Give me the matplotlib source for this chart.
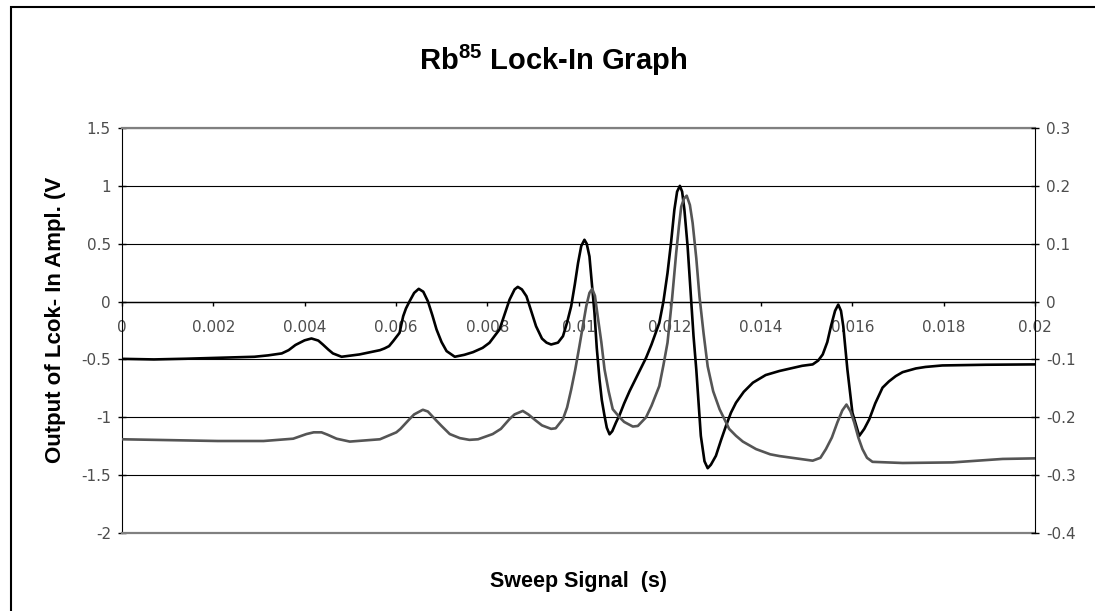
import matplotlib
matplotlib.use("Agg")
import matplotlib.pyplot as plt
from matplotlib.patches import Rectangle

# Lock-in amplifier output (left axis, V) against sweep time (s)
sweep_lockin = [
    0.0000, 0.0007, 0.0014, 0.0021, 0.0029, 0.0032, 0.0035, 0.00365, 0.0038, 0.0040,
    0.00415, 0.0043, 0.0044, 0.00452, 0.00462, 0.00481, 0.0052, 0.00565, 0.00575, 0.00585,
    0.00594, 0.00608, 0.00616, 0.00622, 0.0063, 0.0064, 0.0065, 0.0066, 0.0067, 0.0068,
    0.00689, 0.0070, 0.00711, 0.00729, 0.0075, 0.00769, 0.0079, 0.00805, 0.00827, 0.0084,
    0.00849, 0.0086, 0.00867, 0.00876, 0.00886, 0.00897, 0.00907, 0.0092, 0.0093, 0.0094,
    0.00955, 0.00966, 0.00975, 0.00984, 0.00992, 0.00999, 0.01006, 0.01013, 0.01018, 0.01024,
    0.01035, 0.0104, 0.01046, 0.01051, 0.01057, 0.01062, 0.01068, 0.01074, 0.01082, 0.0109,
    0.0110, 0.01112, 0.0113, 0.01148, 0.0116, 0.01177, 0.01186, 0.01195, 0.01203, 0.0121,
    0.01216, 0.01222, 0.01227, 0.01232, 0.01239, 0.01243, 0.01247, 0.01252, 0.01258, 0.01263,
    0.01268, 0.01276, 0.01283, 0.0129, 0.01301, 0.01312, 0.01323, 0.01334, 0.01345, 0.01362,
    0.01382, 0.0141, 0.0144, 0.01462, 0.0149, 0.01513, 0.01525, 0.01535, 0.01545, 0.01553,
    0.01562, 0.01569, 0.01575, 0.0158, 0.01589, 0.0160, 0.01615, 0.01626, 0.01637, 0.0165,
    0.01666, 0.0168, 0.01695, 0.0171, 0.01739, 0.0176, 0.01797, 0.01892, 0.0200,
]
lockin_output = [
    -0.495, -0.500, -0.494, -0.486, -0.477, -0.465, -0.448, -0.420, -0.375, -0.335,
    -0.319, -0.337, -0.371, -0.415, -0.448, -0.477, -0.457, -0.420, -0.405, -0.385,
    -0.342, -0.270, -0.126, -0.060, 0.003, 0.075, 0.110, 0.085, 0.003, -0.120,
    -0.241, -0.350, -0.428, -0.477, -0.460, -0.437, -0.400, -0.356, -0.241, -0.090,
    0.017, 0.105, 0.127, 0.105, 0.046, -0.090, -0.213, -0.320, -0.355, -0.371,
    -0.355, -0.299, -0.180, -0.040, 0.150, 0.333, 0.480, 0.534, 0.500, 0.390,
    -0.098, -0.400, -0.672, -0.850, -0.988, -1.090, -1.147, -1.120, -1.046, -0.980,
    -0.880, -0.773, -0.630, -0.486, -0.370, -0.184, 0.000, 0.247, 0.520, 0.793,
    0.950, 1.000, 0.950, 0.793, 0.477, 0.240, -0.011, -0.300, -0.586, -0.870,
    -1.161, -1.380, -1.440, -1.410, -1.333, -1.200, -1.075, -0.960, -0.874, -0.780,
    -0.701, -0.635, -0.600, -0.580, -0.555, -0.543, -0.510, -0.457, -0.350, -0.213,
    -0.080, -0.026, -0.080, -0.213, -0.586, -0.960, -1.161, -1.100, -1.017, -0.880,
    -0.744, -0.690, -0.644, -0.610, -0.578, -0.565, -0.552, -0.546, -0.543,
]

# Absorption signal (right axis, V) against sweep time (s)
sweep_absorption = [
    0.0000, 0.0007, 0.0021, 0.0031, 0.00375, 0.00404, 0.0042, 0.00437, 0.0045, 0.0047,
    0.00499, 0.00565, 0.00601, 0.0061, 0.0063, 0.0064, 0.00659, 0.0067, 0.00689, 0.0070,
    0.00718, 0.0074, 0.00761, 0.0078, 0.00812, 0.0083, 0.00849, 0.0086, 0.00878, 0.0089,
    0.00907, 0.0092, 0.0094, 0.0095, 0.00966, 0.00975, 0.00984, 0.00993, 0.01002, 0.0101,
    0.01017, 0.01024, 0.0103, 0.01036, 0.01042, 0.0105, 0.01057, 0.01066, 0.01075, 0.0109,
    0.0110, 0.01119, 0.0113, 0.01148, 0.0116, 0.01177, 0.01186, 0.01195, 0.01205, 0.01214,
    0.0122, 0.01225, 0.01231, 0.01237, 0.01244, 0.0125, 0.01258, 0.01265, 0.01274, 0.01283,
    0.01295, 0.01309, 0.0133, 0.01345, 0.0136, 0.01389, 0.0142, 0.0144, 0.01513, 0.0153,
    0.01542, 0.01555, 0.01567, 0.01578, 0.01587, 0.01596, 0.01604, 0.01613, 0.01622, 0.01632,
    0.01644, 0.0171, 0.01819, 0.01929, 0.0200,
]
absorption_signal = [
    -0.238, -0.239, -0.241, -0.241, -0.237, -0.229, -0.226, -0.226, -0.230, -0.237,
    -0.242, -0.238, -0.226, -0.220, -0.203, -0.195, -0.187, -0.190, -0.206, -0.215,
    -0.229, -0.236, -0.239, -0.238, -0.229, -0.220, -0.203, -0.195, -0.189, -0.195,
    -0.206, -0.214, -0.220, -0.219, -0.203, -0.183, -0.152, -0.117, -0.077, -0.040,
    -0.008, 0.015, 0.022, 0.010, -0.025, -0.070, -0.117, -0.155, -0.186, -0.200,
    -0.208, -0.216, -0.215, -0.200, -0.180, -0.146, -0.110, -0.071, 0.005, 0.084,
    0.130, 0.164, 0.178, 0.183, 0.167, 0.136, 0.075, 0.009, -0.055, -0.112,
    -0.155, -0.186, -0.220, -0.232, -0.242, -0.255, -0.264, -0.267, -0.275, -0.270,
    -0.255, -0.235, -0.209, -0.188, -0.178, -0.190, -0.209, -0.235, -0.255, -0.270,
    -0.277, -0.279, -0.278, -0.272, -0.271,
]

left_ticks = [-2, -1.5, -1, -0.5, 0, 0.5, 1, 1.5]
left_labels = ["-2", "-1.5", "-1", "-0.5", "0", "0.5", "1", "1.5"]
right_ticks = [-0.4, -0.3, -0.2, -0.1, 0, 0.1, 0.2, 0.3]
right_labels = ["-0.4", "-0.3", "-0.2", "-0.1", "0", "0.1", "0.2", "0.3"]
x_ticks = [0, 0.002, 0.004, 0.006, 0.008, 0.01, 0.012, 0.014, 0.016, 0.018, 0.02]
x_labels = ["0", "0.002", "0.004", "0.006", "0.008", "0.01", "0.012", "0.014",
            "0.016", "0.018", "0.02"]

plt.rcParams["mathtext.fontset"] = "custom"
plt.rcParams["mathtext.bf"] = "Liberation Sans:bold"
plt.rcParams["mathtext.rm"] = "Liberation Sans"

W, H = 1095, 611
fig = plt.figure(figsize=(W / 100, H / 100), dpi=100)
fig.patch.set_facecolor("white")

ax = fig.add_axes([122 / W, 1 - 533 / H, (1035 - 122) / W, (533 - 128) / H])
ax.set_xlim(0, 0.02)
ax.set_ylim(-2, 1.5)

tick_color = "#4d4d4d"
ax.set_yticks(left_ticks)
ax.set_yticklabels(left_labels)
ax.set_xticks(x_ticks)
ax.set_xticklabels(x_labels)
ax.yaxis.grid(True, color="black", lw=0.8)
ax.set_axisbelow(True)
ax.tick_params(axis="y", direction="inout", length=6, width=1, labelsize=11,
               labelcolor=tick_color, pad=5)
ax.tick_params(axis="x", direction="out", length=3, width=1, labelsize=11,
               labelcolor=tick_color, pad=10)

ax.spines["bottom"].set_position(("data", 0))
ax.spines["bottom"].set_linewidth(1.0)
ax.spines["left"].set_color("black")
ax.spines["top"].set_color("#808080")
ax.spines["top"].set_linewidth(1.6)
ax.spines["right"].set_visible(False)
ax.axhline(-2, color="#808080", lw=1.6, zorder=2.6, clip_on=False)

ax.plot(sweep_lockin, lockin_output, color="black", lw=1.9, zorder=3,
        solid_joinstyle="round")

ax2 = ax.twinx()
ax2.set_ylim(-0.4, 0.3)
ax2.set_yticks(right_ticks)
ax2.set_yticklabels(right_labels)
ax2.tick_params(axis="y", direction="inout", length=6, width=1, labelsize=11,
                labelcolor=tick_color, pad=5)
for side in ("top", "bottom", "left"):
    ax2.spines[side].set_visible(False)
ax2.spines["right"].set_color("black")
ax2.plot(sweep_absorption, absorption_signal, color="#555555", lw=1.9,
         solid_joinstyle="round")

fig.text(553 / W, 1 - 60 / H, r"$\mathbf{Rb^{85}}$ Lock-In Graph",
         ha="center", va="center", fontsize=21, fontweight="bold",
         family="Liberation Sans")
fig.text(578 / W, 1 - 581 / H, "Sweep Signal  (s)", ha="center", va="center",
         fontsize=15.5, fontweight="bold", family="Liberation Sans")
fig.text(55 / W, 1 - 320 / H, "Output of Lcok- In Ampl. (V", ha="center",
         va="center", rotation=90, fontsize=16, fontweight="bold",
         family="Liberation Sans")

# outer chart border (runs off the right and bottom edges)
fig.patches.append(Rectangle((10.5 / W, -0.2), 2.0, 1 - 7 / H + 0.2,
                             transform=fig.transFigure, fill=False,
                             edgecolor="black", lw=1.5, clip_on=False))

fig.savefig("out.png", dpi=100, facecolor="white")
